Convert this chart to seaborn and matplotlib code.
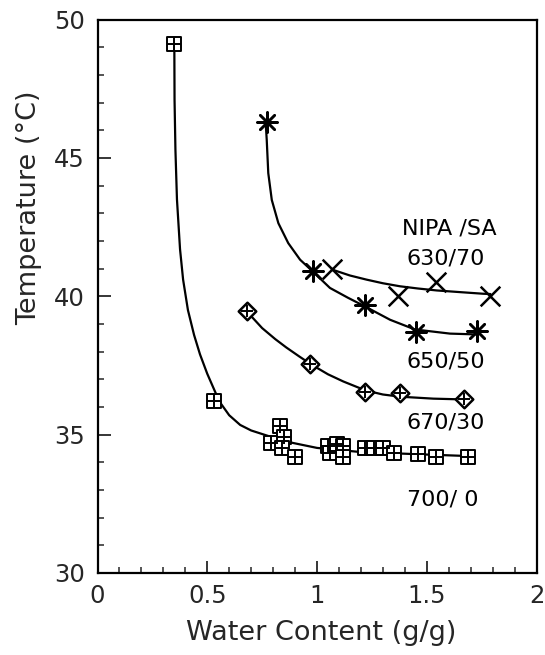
import matplotlib
matplotlib.use("Agg")
import matplotlib.pyplot as plt
import seaborn as sns

# ---- data ----
# 700/0 (squares)
sq_x = [0.35, 0.53, 0.79, 0.83, 0.85, 0.84, 0.90, 1.05, 1.06, 1.09, 1.12, 1.12,
        1.22, 1.26, 1.30, 1.35, 1.46, 1.54, 1.69]
sq_y = [49.1, 36.2, 34.7, 35.3, 34.9, 34.5, 34.2, 34.6, 34.35, 34.65, 34.6, 34.2,
        34.5, 34.5, 34.5, 34.35, 34.3, 34.2, 34.2]
sq_curve_x = [0.35, 0.351, 0.355, 0.362, 0.376, 0.39, 0.412, 0.44, 0.467, 0.50,
              0.555, 0.60, 0.65, 0.70, 0.79, 0.89, 1.0, 1.2, 1.5, 1.71]
sq_curve_y = [49.1, 47.1, 45.3, 43.5, 41.7, 40.6, 39.5, 38.6, 37.9, 37.2,
              36.2, 35.7, 35.35, 35.15, 34.92, 34.7, 34.52, 34.37, 34.28, 34.22]

# 670/30 (diamonds)
di_x = [0.68, 0.97, 1.22, 1.38, 1.67]
di_y = [39.45, 37.55, 36.55, 36.5, 36.3]
di_curve_x = [0.684, 0.75, 0.81, 0.86, 0.92, 0.975, 1.05, 1.12, 1.22, 1.30, 1.38, 1.53, 1.675]
di_curve_y = [39.42, 38.85, 38.45, 38.15, 37.82, 37.53, 37.18, 36.92, 36.6, 36.45, 36.37, 36.3, 36.27]

# 650/50 (asterisks)
as_x = [0.77, 0.98, 1.22, 1.45, 1.73]
as_y = [46.3, 40.9, 39.7, 38.7, 38.75]
as_curve_x = [0.766, 0.771, 0.778, 0.794, 0.824, 0.869, 0.923, 0.98, 1.059, 1.14,
              1.219, 1.333, 1.446, 1.606, 1.73]
as_curve_y = [46.3, 45.65, 44.45, 43.48, 42.64, 41.92, 41.32, 40.9, 40.3, 39.95,
              39.63, 39.15, 38.8, 38.65, 38.62]

# 630/70 (crosses)
x_x = [1.07, 1.37, 1.54, 1.79]
x_y = [41.0, 40.0, 40.5, 40.0]
x_curve_x = [1.074, 1.15, 1.226, 1.30, 1.378, 1.46, 1.545, 1.65, 1.758, 1.79]
x_curve_y = [40.95, 40.75, 40.6, 40.47, 40.36, 40.28, 40.21, 40.15, 40.09, 40.08]

labels = ["NIPA /SA", "630/70", "650/50", "670/30", "700/ 0"]
label_x = [1.385, 1.41, 1.41, 1.41, 1.41]
label_y = [42.45, 41.35, 37.66, 35.43, 32.65]

x_ticks = [0, 0.5, 1, 1.5, 2]
x_ticklabels = ["0", "0.5", "1", "1.5", "2"]
y_ticks = [30, 35, 40, 45, 50]

# ---- figure ----
sns.set_theme(style="ticks")
plt.rcParams["font.family"] = ["DejaVu Sans"]

fig = plt.figure(figsize=(5.45, 6.55), dpi=100)
ax = fig.add_axes([97.5 / 545, 1 - 573 / 655, 439 / 545, 553.5 / 655])

lw = 1.6
for cx, cy in [(sq_curve_x, sq_curve_y), (di_curve_x, di_curve_y),
               (as_curve_x, as_curve_y), (x_curve_x, x_curve_y)]:
    sns.lineplot(x=cx, y=cy, sort=False, estimator=None, color="black",
                 linewidth=lw, ax=ax, zorder=2)

# squares with cross
sns.scatterplot(x=sq_x, y=sq_y, marker="s", s=115, facecolor="white",
                edgecolor="black", linewidth=1.4, ax=ax, zorder=3)
sns.scatterplot(x=sq_x, y=sq_y, marker="+", s=115, color="black",
                linewidth=1.4, ax=ax, zorder=4)
# diamonds with cross
sns.scatterplot(x=di_x, y=di_y, marker="D", s=80, facecolor="white",
                edgecolor="black", linewidth=1.8, ax=ax, zorder=3)
sns.scatterplot(x=di_x, y=di_y, marker="+", s=70, color="black",
                linewidth=1.4, ax=ax, zorder=4)
# asterisks
sns.scatterplot(x=as_x, y=as_y, marker=(8, 2, 0), s=210, color="black",
                linewidth=1.8, ax=ax, zorder=4)
# crosses
sns.scatterplot(x=x_x, y=x_y, marker="x", s=200, color="black",
                linewidth=1.8, ax=ax, zorder=4)

for t, tx, ty in zip(labels, label_x, label_y):
    ax.text(tx, ty, t, fontsize=16, ha="left", va="center", color="black")

ax.set_xlim(0, 2)
ax.set_ylim(30, 50)
ax.set_xticks(x_ticks)
ax.set_xticklabels(x_ticklabels)
ax.set_yticks(y_ticks)
ax.xaxis.set_minor_locator(matplotlib.ticker.MultipleLocator(0.1))
ax.yaxis.set_minor_locator(matplotlib.ticker.MultipleLocator(1))
ax.tick_params(which="major", direction="in", length=9, width=1.3,
               labelsize=17.5, top=False, right=False)
ax.tick_params(axis="x", which="major", pad=8)
ax.tick_params(axis="y", which="major", pad=9)
ax.tick_params(which="minor", direction="in", length=4, width=1.1,
               top=False, right=False)
for sp in ax.spines.values():
    sp.set_linewidth(1.6)
    sp.set_color("black")
    sp.set_visible(True)

ax.set_xlabel("Water Content (g/g)", fontsize=19.5)
ax.set_ylabel("Temperature (°C)", fontsize=19.5)
ax.xaxis.set_label_coords(0.51, -0.085)
ax.yaxis.set_label_coords(-0.127, 0.66)

fig.savefig("out.png", dpi=100)
